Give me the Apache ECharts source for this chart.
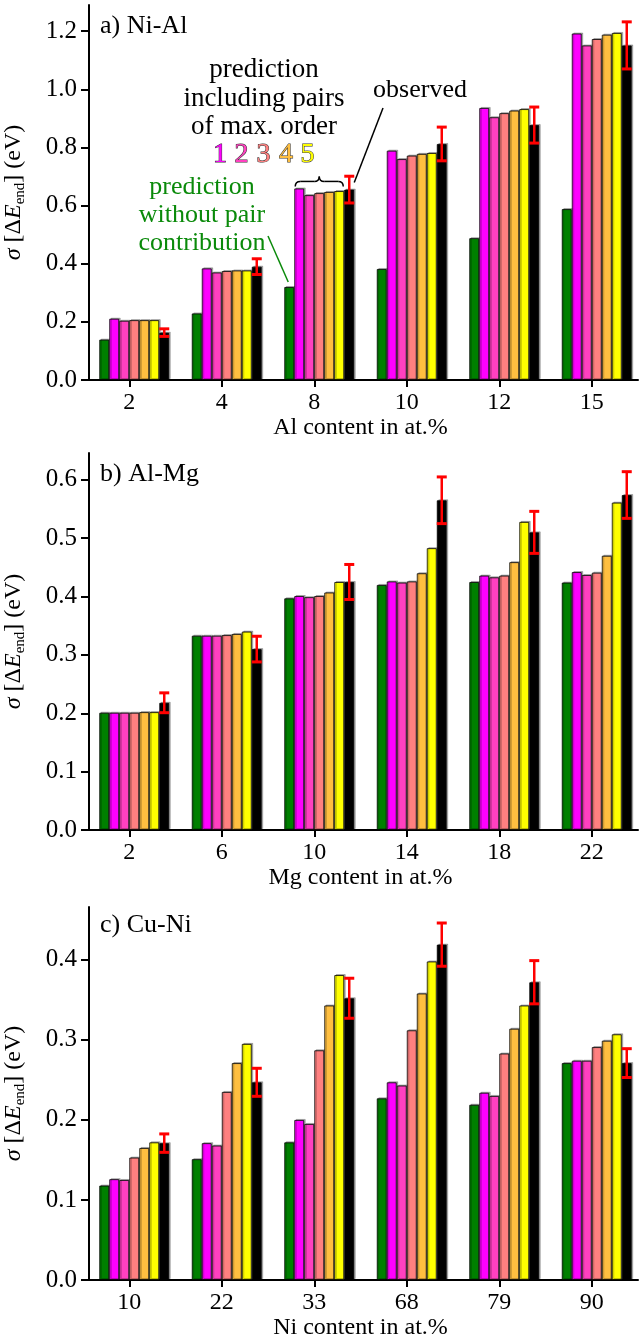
<!DOCTYPE html>
<html><head><meta charset="utf-8">
<script src="https://cdn.jsdelivr.net/npm/echarts@6/dist/echarts.min.js"></script>
<style>html,body{margin:0;padding:0;background:#fff}#c{width:640px;height:1343px}</style>
</head><body><div id="c"></div>
<script>
// ---------- data ----------
const seriesNames = ['without pairs','max. order 1','max. order 2','max. order 3','max. order 4','max. order 5','observed'];
const colors = ['#008000','#ff00ff','#ff40c0','#ff8080','#ffbf40','#ffff00','#000000'];

const catA = ['2','4','8','10','12','15'];
const noPairA = [0.139,0.229,0.320,0.382,0.488,0.588];
const ord1A   = [0.211,0.384,0.659,0.789,0.936,1.192];
const ord2A   = [0.204,0.370,0.636,0.760,0.904,1.151];
const ord3A   = [0.206,0.375,0.643,0.772,0.918,1.173];
const ord4A   = [0.206,0.377,0.647,0.778,0.927,1.188];
const ord5A   = [0.206,0.377,0.650,0.781,0.932,1.194];
const obsA    = [0.163,0.390,0.655,0.812,0.877,1.151];
const errA    = [0.013,0.027,0.046,0.058,0.062,0.081];
const yTicksA = [0,0.2,0.4,0.6,0.8,1.0,1.2];

const catB = ['2','6','10','14','18','22'];
const noPairB = [0.201,0.333,0.397,0.420,0.425,0.424];
const ord1B   = [0.201,0.333,0.401,0.426,0.436,0.442];
const ord2B   = [0.201,0.333,0.399,0.424,0.433,0.437];
const ord3B   = [0.201,0.334,0.401,0.426,0.436,0.441];
const ord4B   = [0.202,0.336,0.407,0.440,0.459,0.470];
const ord5B   = [0.202,0.340,0.425,0.483,0.528,0.561];
const obsB    = [0.218,0.310,0.425,0.565,0.510,0.574];
const errB    = [0.017,0.022,0.030,0.040,0.036,0.040];
const yTicksB = [0,0.1,0.2,0.3,0.4,0.5,0.6];

const catC = ['10','22','33','68','79','90'];
const noPairC = [0.118,0.151,0.172,0.227,0.219,0.271];
const ord1C   = [0.126,0.171,0.200,0.247,0.234,0.274];
const ord2C   = [0.125,0.168,0.195,0.243,0.230,0.274];
const ord3C   = [0.153,0.235,0.287,0.312,0.283,0.291];
const ord4C   = [0.165,0.271,0.343,0.358,0.314,0.299];
const ord5C   = [0.172,0.295,0.381,0.398,0.343,0.307];
const obsC    = [0.171,0.247,0.352,0.419,0.372,0.271];
const errC    = [0.0115,0.0175,0.025,0.027,0.027,0.018];
const yTicksC = [0,0.1,0.2,0.3,0.4];

const panelTitles = ['a) Ni-Al','b) Al-Mg','c) Cu-Ni'];
const xNames = ['Al content in at.%','Mg content in at.%','Ni content in at.%'];
const yMax = [1.29, 0.646, 0.466];

// ---------- chart ----------
const SERIF = "'Liberation Serif','DejaVu Serif',serif";
const GAP = 0.135;
const FS = 24;
const panels = [
  {cat:catA, vals:[noPairA,ord1A,ord2A,ord3A,ord4A,ord5A,obsA], obs:obsA, err:errA, ticks:yTicksA},
  {cat:catB, vals:[noPairB,ord1B,ord2B,ord3B,ord4B,ord5B,obsB], obs:obsB, err:errB, ticks:yTicksB},
  {cat:catC, vals:[noPairC,ord1C,ord2C,ord3C,ord4C,ord5C,obsC], obs:obsC, err:errC, ticks:yTicksC}
];
const gridPos = [
  {top:5, bottom:963},
  {top:453, bottom:513},
  {top:907, bottom:63}
];

const chart = echarts.init(document.getElementById('c'), null, {renderer:'canvas'});

const grid = [], xAxis = [], yAxis = [], series = [];
panels.forEach((p, gi) => {
  grid.push({left:83, right:2, top:gridPos[gi].top, bottom:gridPos[gi].bottom, outerBoundsMode:'none', containLabel:false});
  xAxis.push({
    type:'category', gridIndex:gi, data:p.cat,
    axisLine:{show:true, lineStyle:{color:'#000', width:2}},
    axisTick:{show:true, alignWithLabel:true, length:7, lineStyle:{color:'#000', width:2}},
    axisLabel:{fontSize:FS, fontFamily:SERIF, color:'#000', margin:11},
    name:xNames[gi], nameLocation:'middle', nameGap:36,
    nameTextStyle:{fontSize:FS, fontFamily:SERIF, color:'#000'}
  });
  const step = p.ticks[1] - p.ticks[0];
  yAxis.push({
    type:'value', gridIndex:gi, min:0, max:yMax[gi], interval:step, offset:-6,
    axisLine:{show:true, lineStyle:{color:'#000', width:2}},
    axisTick:{show:true, length:8, customValues:p.ticks, lineStyle:{color:'#000', width:2}},
    axisLabel:{fontSize:FS+1, fontFamily:SERIF, color:'#000', margin:12, customValues:p.ticks,
               formatter:v => v.toFixed(1)},
    splitLine:{show:false},
    name:'{i|σ}{n| [Δ}{i|E}{s|end}{n|] (eV)}', nameLocation:'middle', nameGap:61, nameRotate:90,
    nameTextStyle:{
      fontFamily:SERIF, color:'#000', fontSize:FS,
      rich:{
        n:{fontFamily:SERIF, fontSize:FS, color:'#000', lineHeight:28, verticalAlign:'middle'},
        i:{fontFamily:SERIF, fontSize:FS, fontStyle:'italic', color:'#000', lineHeight:28, verticalAlign:'middle'},
        s:{fontFamily:SERIF, fontSize:15, color:'#000', lineHeight:15, verticalAlign:'bottom'}
      }
    }
  });
  // invisible spacer slot
  series.push({
    type:'bar', name:'spacer'+gi, xAxisIndex:gi, yAxisIndex:gi, silent:true,
    data:p.cat.map(() => 0), barGap:'0%', barCategoryGap:(GAP*100)+'%',
    itemStyle:{color:'rgba(0,0,0,0)', borderWidth:0}
  });
  p.vals.forEach((arr, si) => {
    series.push({
      type:'bar', name:seriesNames[si], xAxisIndex:gi, yAxisIndex:gi,
      data:arr, barGap:'0%', barCategoryGap:(GAP*100)+'%',
      itemStyle:{color:colors[si], borderColor:'rgba(0,0,0,0.8)', borderWidth:1,
                 shadowColor:'rgba(0,0,0,0.3)', shadowOffsetX:1.5, shadowOffsetY:-1, shadowBlur:0}
    });
  });
  series.push({
    type:'custom', name:'error'+gi, xAxisIndex:gi, yAxisIndex:gi, z:10,
    encode:{x:0, y:1},
    data:p.obs.map((v, i) => [i, v, p.err[i]]),
    renderItem:function(params, api){
      const xi = api.value(0), v = api.value(1), e = api.value(2);
      const c = api.coord([xi, v]);
      const band = api.size([1, 0])[0];
      const bw = band * (1 - GAP) / 8;
      const x = c[0] + 3.5 * bw;
      const top = api.coord([xi, v + e])[1];
      const bot = api.coord([xi, v - e])[1];
      const hw = 5;
      return {type:'group', children:[
        {type:'line', shape:{x1:x, y1:top, x2:x, y2:bot}, style:{stroke:'#ff0000', lineWidth:2.5}},
        {type:'line', shape:{x1:x-hw, y1:top, x2:x+hw, y2:top}, style:{stroke:'#ff0000', lineWidth:3}},
        {type:'line', shape:{x1:x-hw, y1:bot, x2:x+hw, y2:bot}, style:{stroke:'#ff0000', lineWidth:3}}
      ]};
    }
  });
});

chart.setOption({
  animation:false,
  backgroundColor:'#fff',
  grid, xAxis, yAxis, series
});

// ---------- annotations ----------
function px(gi, ci, v){ return chart.convertToPixel({gridIndex:gi}, [ci, v]); }
const band = px(0,1,0)[0] - px(0,0,0)[0];
const bw = band * (1 - GAP) / 8;
const c8 = px(0, 2, 0)[0];
const greenX = c8 + (1 - 3.5) * bw;
const greenY = px(0, 2, noPairA[2])[1];
const blackX = c8 + 3.5 * bw;
const blackY = px(0, 2, obsA[2])[1];
const bL = c8 - 2 * bw + 1, bR = c8 + 3 * bw - 1, bM = (bL + bR) / 2;
const topPred = Math.max(ord1A[2], ord2A[2], ord3A[2], ord4A[2], ord5A[2]);
const yb = px(0, 2, topPred)[1] - 2, ym = yb - 5, yt = yb - 10;

const g = [];
const titleTops = [13, 461, 912];
panelTitles.forEach((t, i) => g.push({type:'text', x:100, y:titleTops[i], z:20,
  style:{text:t, font:`26px ${SERIF}`, fill:'#000', align:'left', verticalAlign:'top'}}));

g.push({type:'text', x:264, y:56, z:20, style:{text:'prediction\nincluding pairs\nof max. order',
  font:`27px ${SERIF}`, fill:'#000', align:'center', verticalAlign:'top', lineHeight:28.5}});
const digitX = [220, 241.5, 263.5, 286, 307.5];
['1','2','3','4','5'].forEach((d, i) => g.push({type:'text', x:digitX[i], y:155, z:20,
  style:{text:d, font:`28px ${SERIF}`, fill:colors[i+1], stroke:'#333', lineWidth:1,
         align:'center', verticalAlign:'middle'}}));
g.push({type:'text', x:202, y:173, z:20, style:{text:'prediction\nwithout pair\ncontribution',
  font:`26px ${SERIF}`, fill:'#0a8a0a', align:'center', verticalAlign:'top', lineHeight:28}});
g.push({type:'line', z:20, shape:{x1:268, y1:236, x2:greenX-1, y2:greenY-5},
  style:{stroke:'#0a8a0a', lineWidth:1.5}});
g.push({type:'text', x:420, y:90, z:20, style:{text:'observed', font:`26px ${SERIF}`, fill:'#000',
  align:'center', verticalAlign:'middle'}});
g.push({type:'line', z:20, shape:{x1:383, y1:108, x2:blackX+5, y2:blackY-7},
  style:{stroke:'#000', lineWidth:1.5}});
// curly brace from quadratic curves and straight lines
const braceStyle = {stroke:'#000', lineWidth:1.5, fill:null};
g.push({type:'bezierCurve', z:20, shape:{x1:bL, y1:yb, cpx1:bL, cpy1:ym, x2:bL+5, y2:ym}, style:braceStyle});
g.push({type:'line', z:20, shape:{x1:bL+5, y1:ym, x2:bM-5, y2:ym}, style:braceStyle});
g.push({type:'bezierCurve', z:20, shape:{x1:bM-5, y1:ym, cpx1:bM, cpy1:ym, x2:bM, y2:yt}, style:braceStyle});
g.push({type:'bezierCurve', z:20, shape:{x1:bM, y1:yt, cpx1:bM, cpy1:ym, x2:bM+5, y2:ym}, style:braceStyle});
g.push({type:'line', z:20, shape:{x1:bM+5, y1:ym, x2:bR-5, y2:ym}, style:braceStyle});
g.push({type:'bezierCurve', z:20, shape:{x1:bR-5, y1:ym, cpx1:bR, cpy1:ym, x2:bR, y2:yb}, style:braceStyle});

chart.setOption({graphic:g});
</script>
</body></html>
